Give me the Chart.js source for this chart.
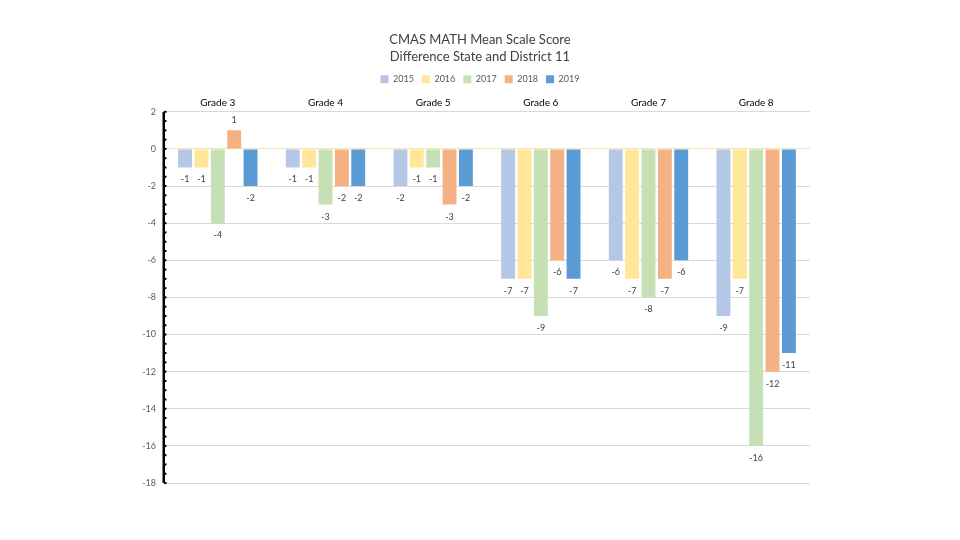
<!DOCTYPE html>
<html><head><meta charset="utf-8">
<script src="https://cdn.jsdelivr.net/npm/chart.js@4"></script>
<style>html,body{margin:0;padding:0;background:#fff}#wrap{width:960px;height:540px}</style>
</head><body><div id="wrap"><canvas id="c"></canvas></div>
<script>
const categories = ["Grade 3","Grade 4","Grade 5","Grade 6","Grade 7","Grade 8"];
const years = ["2015","2016","2017","2018","2019"];
const v2015 = [-1,-1,-2,-7,-6,-9];
const v2016 = [-1,-1,-1,-7,-7,-7];
const v2017 = [-4,-3,-1,-9,-8,-16];
const v2018 = [1,-2,-3,-6,-7,-12];
const v2019 = [-2,-2,-2,-7,-6,-11];
const colors = ["#B4C7E7","#FFE699","#C5E0B4","#F4B183","#5B9BD5"];
const series = [v2015,v2016,v2017,v2018,v2019];
const titleLines = ["CMAS MATH Mean Scale Score","Difference State and District 11"];

const font = "Lato, 'Open Sans', sans-serif";

const labelPlugin = {
  id:'labels',
  afterDatasetsDraw(chart){
    const ctx = chart.ctx;
    ctx.save();
    ctx.font = "9px " + font;
    ctx.fillStyle = "#404040";
    ctx.textAlign = "center";
    ctx.textBaseline = "middle";
    chart.data.datasets.forEach((ds,i)=>{
      chart.getDatasetMeta(i).data.forEach((bar,j)=>{
        const v = ds.data[j];
        const y = v >= 0 ? bar.y - 10 : bar.y + 12;
        ctx.fillText(String(v), bar.x, y);
      });
    });
    ctx.restore();
  },
  afterDraw(chart){
    const y = chart.scales.y, ctx = chart.ctx;
    const x0 = chart.chartArea.left;
    ctx.save();
    ctx.fillStyle = "#000";
    ctx.fillRect(x0-1.5, y.getPixelForValue(2), 2.5, y.getPixelForValue(-18)-y.getPixelForValue(2));
    for(let v=2; v>=-18; v-=0.5){
      const py = y.getPixelForValue(v);
      ctx.fillRect(x0, py-1, 2.5, 2);
    }
    ctx.restore();
  }
};

new Chart(document.getElementById('c'), {
  type:'bar',
  data:{
    labels:categories,
    datasets: years.map((yr,i)=>({label:yr, data:series[i], backgroundColor:colors[i], borderWidth:0,
      categoryPercentage:0.76, barPercentage:0.85}))
  },
  options:{
    responsive:true, maintainAspectRatio:false, animation:false,
    devicePixelRatio:1,
    layout:{padding:{top:31,right:0,bottom:57,left:0}},
    plugins:{
      title:{display:true, text:titleLines, color:"#404040", font:{family:font,size:13,weight:'normal',lineHeight:1.3}, padding:{top:0,bottom:2}},
      legend:{display:true, labels:{boxWidth:8, boxHeight:8, color:"#595959", font:{family:font,size:9}, padding:8}},
      tooltip:{enabled:false}
    },
    scales:{
      x:{position:'top', grid:{display:false, drawTicks:false}, border:{display:false},
         ticks:{color:"#000", font:{family:font,size:10}, padding:3}},
      y:{min:-18, max:2,
         ticks:{stepSize:2, color:"#595959", font:{family:font,size:9}, padding:8},
         grid:{color:(c)=> c.tick && c.tick.value===0 ? "#F2E3A6" : "#D9D9D9", drawTicks:false, lineWidth:1},
         border:{display:false},
         afterFit(s){ s.width = 164; }
      },
      yr:{position:'right', display:true, grid:{display:false, drawOnChartArea:false}, border:{display:false},
         ticks:{display:false}, afterFit(s){ s.width = 150; }}
    }
  },
  plugins:[labelPlugin]
});
</script></body></html>
